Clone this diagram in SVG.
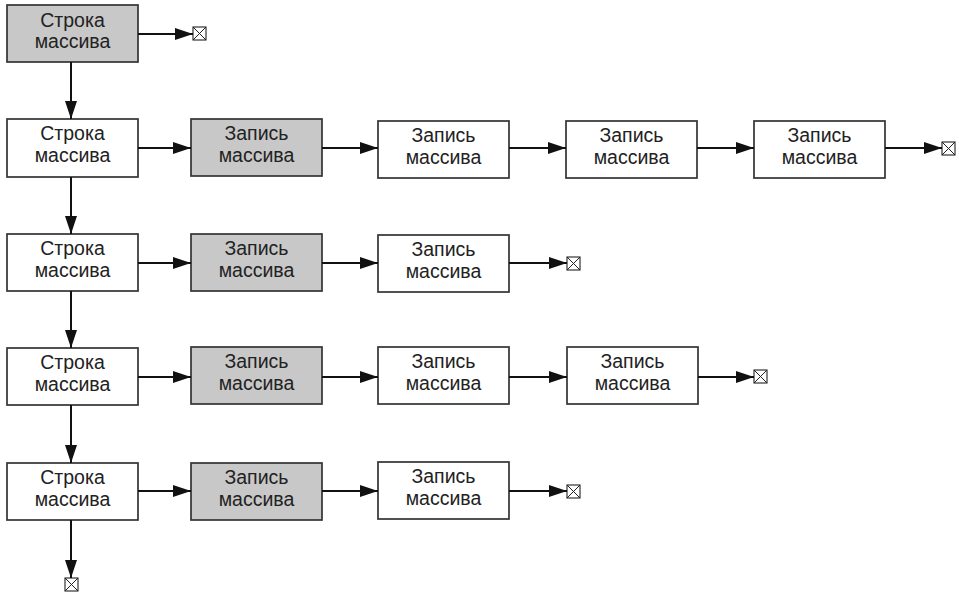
<svg xmlns="http://www.w3.org/2000/svg" width="959" height="594" viewBox="0 0 959 594">
  <style>
    .box { fill: #ffffff; stroke: #333333; stroke-width: 1.7; }
    .box.hl { fill: #c8c8c8; }
    .lbl { font-family: "Liberation Sans", Arial, sans-serif; font-size: 19.5px; fill: #222222; text-anchor: middle; }
    .edge { stroke: #111111; stroke-width: 2; fill: none; marker-end: url(#arrow); }
    .nil rect { fill: #ffffff; stroke: #222222; stroke-width: 1.1; }
    .nil path { stroke: #222222; stroke-width: 1; fill: none; }
  </style>
  <defs>
    <marker id="arrow" markerUnits="userSpaceOnUse" markerWidth="19" markerHeight="14" refX="18" refY="6" orient="auto">
      <path d="M0,0 L18,6 L0,12 z" fill="#111111"/>
    </marker>
    <!-- null terminator: square with a cross -->
    <g id="nullmark" class="nil">
      <rect x="0" y="0" width="13" height="13"/>
      <path d="M0,0 L13,13 M13,0 L0,13"/>
    </g>
  </defs>

  <!-- row 1: list head -->
  <g id="row1-head">
    <rect class="box hl" x="7" y="5" width="131" height="57"/>
    <text class="lbl" x="72.5" y="27">Строка</text>
    <text class="lbl" x="72.5" y="48">массива</text>
  </g>

  <!-- row 2 -->
  <g id="row2-head">
    <rect class="box" x="7" y="119" width="131" height="58"/>
    <text class="lbl" x="72.5" y="140">Строка</text>
    <text class="lbl" x="72.5" y="162">массива</text>
  </g>
  <g id="row2-rec1">
    <rect class="box hl" x="191" y="119" width="131" height="57"/>
    <text class="lbl" x="256.5" y="140">Запись</text>
    <text class="lbl" x="256.5" y="162">массива</text>
  </g>
  <g id="row2-rec2">
    <rect class="box" x="378" y="121" width="131" height="57"/>
    <text class="lbl" x="443.5" y="142">Запись</text>
    <text class="lbl" x="443.5" y="164">массива</text>
  </g>
  <g id="row2-rec3">
    <rect class="box" x="566" y="121" width="131" height="57"/>
    <text class="lbl" x="631.5" y="142">Запись</text>
    <text class="lbl" x="631.5" y="164">массива</text>
  </g>
  <g id="row2-rec4">
    <rect class="box" x="754" y="121" width="131" height="57"/>
    <text class="lbl" x="819.5" y="142">Запись</text>
    <text class="lbl" x="819.5" y="164">массива</text>
  </g>

  <!-- row 3 -->
  <g id="row3-head">
    <rect class="box" x="7" y="234" width="131" height="57"/>
    <text class="lbl" x="72.5" y="255">Строка</text>
    <text class="lbl" x="72.5" y="277">массива</text>
  </g>
  <g id="row3-rec1">
    <rect class="box hl" x="191" y="234" width="131" height="57"/>
    <text class="lbl" x="256.5" y="255">Запись</text>
    <text class="lbl" x="256.5" y="277">массива</text>
  </g>
  <g id="row3-rec2">
    <rect class="box" x="378" y="235" width="131" height="57"/>
    <text class="lbl" x="443.5" y="256">Запись</text>
    <text class="lbl" x="443.5" y="278">массива</text>
  </g>

  <!-- row 4 -->
  <g id="row4-head">
    <rect class="box" x="7" y="348" width="131" height="57"/>
    <text class="lbl" x="72.5" y="369">Строка</text>
    <text class="lbl" x="72.5" y="391">массива</text>
  </g>
  <g id="row4-rec1">
    <rect class="box hl" x="191" y="347" width="131" height="57"/>
    <text class="lbl" x="256.5" y="368">Запись</text>
    <text class="lbl" x="256.5" y="390">массива</text>
  </g>
  <g id="row4-rec2">
    <rect class="box" x="378" y="347" width="131" height="57"/>
    <text class="lbl" x="443.5" y="368">Запись</text>
    <text class="lbl" x="443.5" y="390">массива</text>
  </g>
  <g id="row4-rec3">
    <rect class="box" x="567" y="347" width="131" height="57"/>
    <text class="lbl" x="632.5" y="368">Запись</text>
    <text class="lbl" x="632.5" y="390">массива</text>
  </g>

  <!-- row 5 -->
  <g id="row5-head">
    <rect class="box" x="7" y="463" width="131" height="57"/>
    <text class="lbl" x="72.5" y="484">Строка</text>
    <text class="lbl" x="72.5" y="506">массива</text>
  </g>
  <g id="row5-rec1">
    <rect class="box hl" x="191" y="463" width="131" height="57"/>
    <text class="lbl" x="256.5" y="484">Запись</text>
    <text class="lbl" x="256.5" y="506">массива</text>
  </g>
  <g id="row5-rec2">
    <rect class="box" x="378" y="462" width="131" height="57"/>
    <text class="lbl" x="443.5" y="483">Запись</text>
    <text class="lbl" x="443.5" y="505">массива</text>
  </g>

  <!-- null terminators -->
  <g id="nulls">
    <use href="#nullmark" x="193" y="27"/>
    <use href="#nullmark" x="942" y="142"/>
    <use href="#nullmark" x="567" y="257"/>
    <use href="#nullmark" x="754" y="370"/>
    <use href="#nullmark" x="567" y="485"/>
    <use href="#nullmark" x="65" y="578"/>
  </g>

  <!-- connectors -->
  <g id="connectors">
    <!-- vertical chain of rows -->
    <line class="edge" x1="71" y1="62" x2="71" y2="119"/>
    <line class="edge" x1="71" y1="177" x2="71" y2="234"/>
    <line class="edge" x1="71" y1="291" x2="71" y2="348"/>
    <line class="edge" x1="71" y1="405" x2="71" y2="463"/>
    <line class="edge" x1="71" y1="520" x2="71" y2="578"/>
    <!-- row 1 -->
    <line class="edge" x1="138" y1="34" x2="193" y2="34"/>
    <!-- row 2 -->
    <line class="edge" x1="138" y1="148" x2="191" y2="148"/>
    <line class="edge" x1="322" y1="148" x2="378" y2="148"/>
    <line class="edge" x1="509" y1="148" x2="566" y2="148"/>
    <line class="edge" x1="697" y1="148" x2="754" y2="148"/>
    <line class="edge" x1="885" y1="148" x2="942" y2="148"/>
    <!-- row 3 -->
    <line class="edge" x1="138" y1="263" x2="191" y2="263"/>
    <line class="edge" x1="322" y1="263" x2="378" y2="263"/>
    <line class="edge" x1="509" y1="263" x2="567" y2="263"/>
    <!-- row 4 -->
    <line class="edge" x1="138" y1="377" x2="191" y2="377"/>
    <line class="edge" x1="322" y1="377" x2="378" y2="377"/>
    <line class="edge" x1="509" y1="377" x2="567" y2="377"/>
    <line class="edge" x1="698" y1="377" x2="754" y2="377"/>
    <!-- row 5 -->
    <line class="edge" x1="138" y1="491" x2="191" y2="491"/>
    <line class="edge" x1="322" y1="491" x2="378" y2="491"/>
    <line class="edge" x1="509" y1="491" x2="567" y2="491"/>
  </g>
</svg>
